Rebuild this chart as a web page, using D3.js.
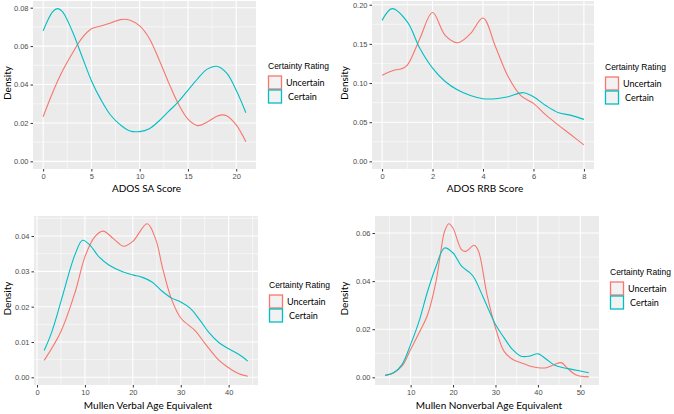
<!DOCTYPE html>
<html><head><meta charset="utf-8">
<script src="https://cdn.jsdelivr.net/npm/d3@7"></script>
<style>body{margin:0;background:#fff}svg{display:block}</style>
</head><body>
<svg id="c" width="674" height="414"></svg>
<script>
// ---- Data ----
const seriesNames = ["Uncertain", "Certain"];
const seriesColors = ["#F8766D", "#00BFC4"];
const legendTitle = "Certainty Rating";

// Panel 1: ADOS SA Score
const saUncX = [0,1,2,3,4,5,6,7,8,9,10,11,12,13,14,15,16,17,18,18.5,19,20,21];
const saUncY = [0.0232,0.036,0.047,0.056,0.064,0.069,0.0705,0.072,0.0738,0.0735,0.0705,0.064,0.053,0.041,0.030,0.022,0.0186,0.0205,0.0235,0.0242,0.0238,0.019,0.0102];
const saCerX = [0,1,1.5,2,3,4,5,6,7,8,9,10,11,12,13,14,15,16,17,18,19,20,21];
const saCerY = [0.068,0.078,0.0795,0.078,0.068,0.055,0.042,0.032,0.024,0.019,0.0158,0.0155,0.017,0.021,0.026,0.031,0.037,0.043,0.048,0.0495,0.046,0.037,0.0253];
const saXTicks = [0,5,10,15,20];
const saYTicks = [0,0.02,0.04,0.06,0.08];

// Panel 2: ADOS RRB Score
const rrbUncX = [0,0.5,0.75,1,1.5,2,2.5,3,3.5,4,4.5,5,5.5,6,6.5,7,7.5,8];
const rrbUncY = [0.110,0.1166,0.118,0.123,0.157,0.190,0.161,0.1515,0.163,0.183,0.146,0.108,0.084,0.074,0.059,0.046,0.0336,0.021];
const rrbCerX = [0,0.4,1,1.5,2,2.5,3,3.5,4,4.5,5,5.6,6,6.5,7,7.5,8];
const rrbCerY = [0.180,0.195,0.178,0.144,0.119,0.102,0.091,0.084,0.080,0.080,0.0826,0.0877,0.0826,0.071,0.062,0.0587,0.0536];
const rrbXTicks = [0,2,4,6,8];
const rrbYTicks = [0,0.05,0.10,0.15,0.20];

// Panel 3: Mullen Verbal Age Equivalent
const verUncX = [1.5,5,8,10,12,13.8,16,18.1,20,23,24.8,26.2,28,30,33,35,38,40,42,44];
const verUncY = [0.0048,0.013,0.0243,0.0341,0.0397,0.0414,0.0392,0.0371,0.0385,0.0435,0.039,0.031,0.0224,0.0168,0.0132,0.0097,0.0048,0.0027,0.0011,0.0003];
const verCerX = [1.5,3,5,7,8,9.5,11,13,15,18,20,22,24,26,28,30,32,34,36,38,40,42,44];
const verCerY = [0.0076,0.0125,0.0215,0.031,0.035,0.0388,0.0375,0.034,0.0318,0.0298,0.029,0.0283,0.027,0.0245,0.0225,0.0213,0.0195,0.0162,0.0125,0.0098,0.0081,0.0066,0.0046];
const verXTicks = [0,10,20,30,40];
const verYTicks = [0,0.01,0.02,0.03,0.04];

// Panel 4: Mullen Nonverbal Age Equivalent
const nvUncX = [4,6,8,10,12,14,16,17,18,19,20,22,23,25,26,28,30,32,34,36,38,40,42,44,45.5,47,49,52];
const nvUncY = [0.0008,0.0019,0.0047,0.0116,0.0185,0.026,0.040,0.051,0.0607,0.0639,0.062,0.0531,0.0524,0.0549,0.0524,0.0344,0.0206,0.0109,0.0075,0.0061,0.0047,0.004,0.004,0.0054,0.0061,0.0037,0.001,0.0002];
const nvCerX = [4,6,8,10,12,14,16,18,20,22,24,25,27,30,32,34,36,38,40,42,44,46,48,50,52];
const nvCerY = [0.0008,0.0019,0.0054,0.0137,0.0234,0.0358,0.0462,0.0538,0.0517,0.0462,0.0434,0.0413,0.0337,0.022,0.0165,0.0116,0.0088,0.0088,0.0098,0.0075,0.005,0.004,0.0033,0.0026,0.0019];
const nvXTicks = [10,20,30,40,50];
const nvYTicks = [0,0.02,0.04,0.06];

const xTitles = ["ADOS SA Score","ADOS RRB Score","Mullen Verbal Age Equivalent","Mullen Nonverbal Age Equivalent"];
const yTitle = "Density";

// ---- Layout ----
const panels = [
  {box:{l:33,r:256,t:1,b:169}, series:[[saUncX,saUncY],[saCerX,saCerY]], xt:saXTicks, yt:saYTicks, yfmt:".2f", title:xTitles[0], ytx:7, xtY:192, leg:{x:268,y:61}},
  {box:{l:372,r:594,t:1,b:169}, series:[[rrbUncX,rrbUncY],[rrbCerX,rrbCerY]], xt:rrbXTicks, yt:rrbYTicks, yfmt:".2f", title:xTitles[1], ytx:344, xtY:192, leg:{x:605,y:62}},
  {box:{l:34,r:258,t:216,b:385}, series:[[verUncX,verUncY],[verCerX,verCerY]], xt:verXTicks, yt:verYTicks, yfmt:".2f", title:xTitles[2], ytx:7, xtY:409, leg:{x:269,y:280}},
  {box:{l:375,r:599,t:216,b:385}, series:[[nvUncX,nvUncY],[nvCerX,nvCerY]], xt:nvXTicks, yt:nvYTicks, yfmt:".2f", title:xTitles[3], ytx:344, xtY:409, leg:{x:610,y:267}}
];

const svg = d3.select("#c");
const tickFont = "'Liberation Sans', Arial, sans-serif";
const titleFont = "Lato, 'Open Sans', sans-serif";

panels.forEach(p => {
  const b = p.box;
  const allX = p.series.flatMap(s => s[0]);
  const allY = p.series.flatMap(s => s[1]);
  const [x0, x1] = d3.extent(allX);
  const xr = x1 - x0;
  const ymax = d3.max(allY);
  const x = d3.scaleLinear().domain([x0 - 0.05*xr, x1 + 0.05*xr]).range([b.l, b.r]);
  const y = d3.scaleLinear().domain([-0.05*ymax, ymax*1.05]).range([b.b, b.t]);
  const g = svg.append("g");
  g.append("rect").attr("x", b.l).attr("y", b.t).attr("width", b.r-b.l).attr("height", b.b-b.t).attr("fill", "#EBEBEB");

  // minor grid
  const xstep = p.xt[1]-p.xt[0], ystep = p.yt[1]-p.yt[0];
  const xd = x.domain(), yd = y.domain();
  const xMinor = d3.range(p.xt[0]-xstep/2, xd[1], xstep).filter(v => v > xd[0] && v < xd[1]);
  const yMinor = d3.range(p.yt[0]-ystep/2, yd[1], ystep).filter(v => v > yd[0] && v < yd[1]);
  g.selectAll(".mx").data(xMinor).join("line").attr("x1", d=>x(d)).attr("x2", d=>x(d)).attr("y1", b.t).attr("y2", b.b).attr("stroke","#fff").attr("stroke-width",0.55);
  g.selectAll(".my").data(yMinor).join("line").attr("y1", d=>y(d)).attr("y2", d=>y(d)).attr("x1", b.l).attr("x2", b.r).attr("stroke","#fff").attr("stroke-width",0.55);
  // major grid
  g.selectAll(".gx").data(p.xt).join("line").attr("x1", d=>x(d)).attr("x2", d=>x(d)).attr("y1", b.t).attr("y2", b.b).attr("stroke","#fff").attr("stroke-width",1.1);
  g.selectAll(".gy").data(p.yt).join("line").attr("y1", d=>y(d)).attr("y2", d=>y(d)).attr("x1", b.l).attr("x2", b.r).attr("stroke","#fff").attr("stroke-width",1.1);

  // axes
  const xa = g.append("g").attr("transform", `translate(0,${b.b})`)
    .call(d3.axisBottom(x).tickValues(p.xt).tickSize(2.5).tickPadding(2).tickFormat(d3.format("d")));
  const ya = g.append("g").attr("transform", `translate(${b.l},0)`)
    .call(d3.axisLeft(y).tickValues(p.yt).tickSize(2.5).tickPadding(2).tickFormat(d3.format(p.yfmt)));
  [xa, ya].forEach(a => {
    a.select(".domain").remove();
    a.selectAll(".tick line").attr("stroke", "#333").attr("stroke-width", 1);
    a.selectAll(".tick text").attr("fill", "#4D4D4D").style("font-family", tickFont).style("font-size", "7.5px");
  });

  // lines
  const line = d3.line().x(d => x(d[0])).y(d => y(d[1])).curve(d3.curveCatmullRom.alpha(0.5));
  p.series.forEach((s, i) => {
    const pts = s[0].map((v, k) => [v, s[1][k]]);
    g.append("path").datum(pts).attr("d", line).attr("fill", "none").attr("stroke", seriesColors[i]).attr("stroke-width", 1.1);
  });

  // titles
  g.append("text").attr("x", (b.l+b.r)/2 + 2).attr("y", p.xtY).attr("text-anchor","middle")
    .style("font-family", titleFont).style("font-size","10px").attr("fill","#000").text(p.title);
  g.append("text").attr("transform", `translate(${p.ytx + 4},${(b.t+b.b)/2 - 2}) rotate(-90)`).attr("text-anchor","middle")
    .style("font-family", titleFont).style("font-size","10px").attr("fill","#000").text(yTitle);

  // legend
  const L = p.leg;
  g.append("text").attr("x", L.x).attr("y", L.y + 8).style("font-family", tickFont).style("font-size","8.5px").attr("fill","#000").text(legendTitle);
  seriesNames.forEach((n, i) => {
    const yy = L.y + 15 + i*14;
    g.append("rect").attr("x", L.x + 0.5).attr("y", yy).attr("width", 13).attr("height", 13)
      .attr("fill", "#F2F2F2").attr("stroke", seriesColors[i]).attr("stroke-width", 1.3);
    g.append("text").attr("x", L.x + 18 + (i===1?2:0)).attr("y", yy + 10).style("font-family", titleFont).style("font-size","9px").attr("fill","#000").text(n);
  });
});
</script>
</body></html>
